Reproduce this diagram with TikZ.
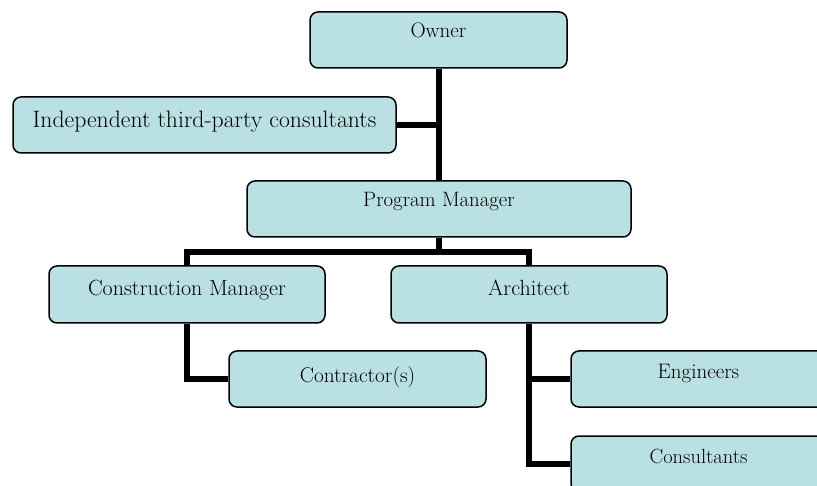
\documentclass[tikz,border=0pt]{standalone}
\usetikzlibrary{positioning}
\definecolor{boxfill}{RGB}{185,224,227}
\tikzset{
  box/.style={draw=black, line width=1.5pt, fill=boxfill, rounded corners=8pt,
    inner sep=0pt, minimum height=56pt, align=center},
  conn/.style={line width=6pt, draw=black, line join=miter},
  fs/.style={font=\fontsize{#1}{#1}\selectfont}
}
\begin{document}
\begin{tikzpicture}[x=1pt,y=-1pt]
\useasboundingbox (0,0) rectangle (817,486);
\clip (0,0) rectangle (817,486);
\node[box, fs=21, minimum width=257pt, text height=0pt, text depth=4pt] (owner) at (438.5,40) {Owner};
\node[box, fs=23.7, minimum width=383pt, text height=6pt, text depth=0pt] (indep) at (204.5,125) {Independent third-party consultants};
\node[box, fs=20.8, minimum width=384pt, text height=0pt, text depth=4pt] (pm) at (439,209) {Program Manager};
\node[box, fs=22, minimum width=276pt, minimum height=57pt, text height=3pt, text depth=0pt] (cm) at (187,294.5) {Construction Manager};
\node[box, fs=22, minimum width=276pt, minimum height=57pt, text height=3pt, text depth=0pt] (arch) at (529,294.5) {Architect};
\node[box, fs=21.3, minimum width=257pt, text height=8pt, text depth=0pt] (contr) at (357.5,379) {Contractor(s)};
\node[box, fs=21, minimum width=255pt, text height=0pt, text depth=1pt] (eng) at (698.5,379) {Engineers};
\node[box, fs=20.5, minimum width=255pt, text height=0pt, text depth=2pt] (cons) at (698.5,464) {Consultants};
\coordinate (bus) at (439,252);
\draw[conn] (owner.south) -- (owner.south |- pm.north);
\draw[conn] (indep.east) -- (indep.east -| owner.south);
\draw[conn] (pm.south) -- (bus);
\draw[conn] (cm.north) |- (bus) -| (arch.north);
\draw[conn] (cm.south) |- (contr.west);
\draw[conn] (arch.south) |- (eng.west);
\draw[conn] (arch.south) |- (cons.west);
\end{tikzpicture}
\end{document}
